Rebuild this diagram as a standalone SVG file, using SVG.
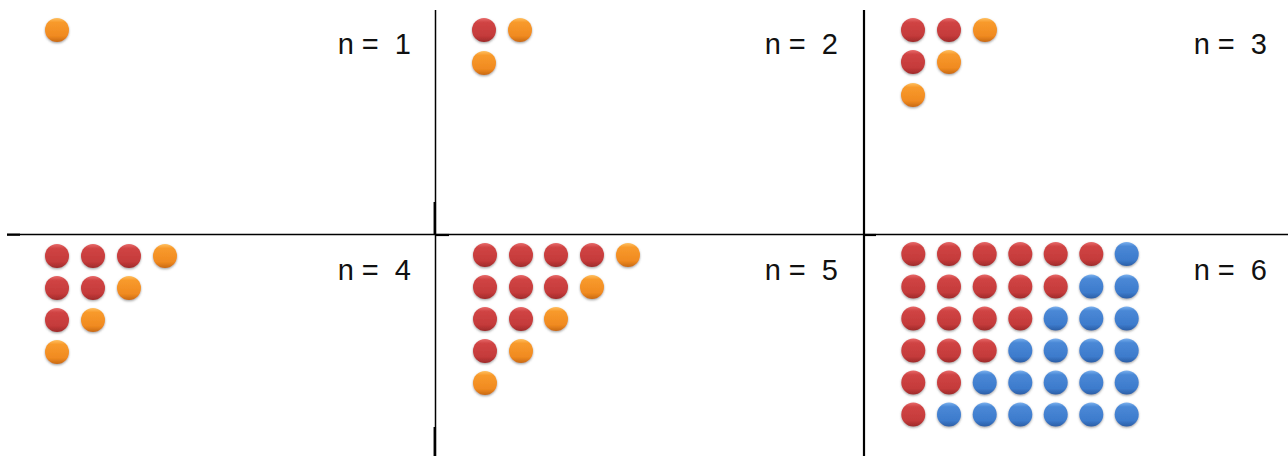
<svg xmlns="http://www.w3.org/2000/svg" xmlns:xlink="http://www.w3.org/1999/xlink" width="1288" height="456" viewBox="0 0 1288 456">
  <style>
    .lbl { font-family: "Liberation Sans", Arial, sans-serif; font-size: 29px; fill: #111; }
    .ln { stroke: #000; fill: none; }
  </style>
  <defs>
    <filter id="sh" x="-40%" y="-40%" width="180%" height="180%">
      <feDropShadow dx="0" dy="1.2" stdDeviation="1.1" flood-color="#555" flood-opacity="0.55"/>
    </filter>
    <linearGradient id="gR" x1="0" y1="0" x2="0" y2="1">
      <stop offset="0" stop-color="#e86a6a"/>
      <stop offset="0.18" stop-color="#d04444"/>
      <stop offset="0.75" stop-color="#c43a3a"/>
      <stop offset="1" stop-color="#9e2a2a"/>
    </linearGradient>
    <linearGradient id="gO" x1="0" y1="0" x2="0" y2="1">
      <stop offset="0" stop-color="#ffc060"/>
      <stop offset="0.18" stop-color="#f89a2c"/>
      <stop offset="0.75" stop-color="#f08a20"/>
      <stop offset="1" stop-color="#c86a12"/>
    </linearGradient>
    <linearGradient id="gB" x1="0" y1="0" x2="0" y2="1">
      <stop offset="0" stop-color="#7ab0ee"/>
      <stop offset="0.18" stop-color="#4a88d6"/>
      <stop offset="0.75" stop-color="#3d7bcc"/>
      <stop offset="1" stop-color="#2a5ea6"/>
    </linearGradient>
    <circle id="R" r="12" fill="url(#gR)" filter="url(#sh)"/>
    <circle id="O" r="12" fill="url(#gO)" filter="url(#sh)"/>
    <circle id="B" r="12" fill="url(#gB)" filter="url(#sh)"/>
  </defs>
  <rect width="1288" height="456" fill="#fff"/>

  <g id="grid">
    <line class="ln" x1="435.5" y1="10" x2="435.5" y2="456" stroke-width="1.5"/>
    <line class="ln" x1="434.8" y1="202" x2="434.8" y2="234" stroke-width="2.5"/>
    <line class="ln" x1="434.8" y1="427" x2="434.8" y2="456" stroke-width="2.5"/>
    <line class="ln" x1="864" y1="10" x2="864" y2="456" stroke-width="2.2"/>
    <line class="ln" x1="7" y1="234.5" x2="1288" y2="234.5" stroke-width="1.4"/>
    <line class="ln" x1="7" y1="234.7" x2="20" y2="234.7" stroke-width="2.2"/>
    <line class="ln" x1="435" y1="235" x2="449" y2="235" stroke-width="2.2"/>
    <line class="ln" x1="864" y1="235" x2="876" y2="235" stroke-width="2.2"/>
  </g>

  <g id="panel-n1">
    <use href="#O" x="57" y="30"/>
    <text class="lbl" x="411" y="54" text-anchor="end" xml:space="preserve">n =  1</text>
  </g>

  <g id="panel-n2">
    <use href="#R" x="484" y="30"/><use href="#O" x="520" y="30"/>
    <use href="#O" x="484" y="63"/>
    <text class="lbl" x="838" y="54" text-anchor="end" xml:space="preserve">n =  2</text>
  </g>

  <g id="panel-n3">
    <use href="#R" x="913" y="30"/><use href="#R" x="949" y="30"/><use href="#O" x="985" y="30"/>
    <use href="#R" x="913" y="62"/><use href="#O" x="949" y="62"/>
    <use href="#O" x="913" y="95"/>
    <text class="lbl" x="1267" y="54" text-anchor="end" xml:space="preserve">n =  3</text>
  </g>

  <g id="panel-n4">
    <use href="#R" x="57" y="256"/><use href="#R" x="93" y="256"/><use href="#R" x="129" y="256"/><use href="#O" x="165" y="256"/>
    <use href="#R" x="57" y="288"/><use href="#R" x="93" y="288"/><use href="#O" x="129" y="288"/>
    <use href="#R" x="57" y="320"/><use href="#O" x="93" y="320"/>
    <use href="#O" x="57" y="352"/>
    <text class="lbl" x="411" y="280" text-anchor="end" xml:space="preserve">n =  4</text>
  </g>

  <g id="panel-n5">
    <use href="#R" x="485" y="255"/><use href="#R" x="521" y="255"/><use href="#R" x="556" y="255"/><use href="#R" x="592" y="255"/><use href="#O" x="628" y="255"/>
    <use href="#R" x="485" y="287"/><use href="#R" x="521" y="287"/><use href="#R" x="556" y="287"/><use href="#O" x="592" y="287"/>
    <use href="#R" x="485" y="319"/><use href="#R" x="521" y="319"/><use href="#O" x="556" y="319"/>
    <use href="#R" x="485" y="351"/><use href="#O" x="521" y="351"/>
    <use href="#O" x="485" y="383"/>
    <text class="lbl" x="838" y="280" text-anchor="end" xml:space="preserve">n =  5</text>
  </g>

  <g id="panel-n6">
    <use href="#R" x="913.3" y="254"/><use href="#R" x="949" y="254"/><use href="#R" x="984.7" y="254"/><use href="#R" x="1020.3" y="254"/><use href="#R" x="1055.7" y="254"/><use href="#R" x="1091.3" y="254"/><use href="#B" x="1126.7" y="254"/>
    <use href="#R" x="913.3" y="286.5"/><use href="#R" x="949" y="286.5"/><use href="#R" x="984.7" y="286.5"/><use href="#R" x="1020.3" y="286.5"/><use href="#R" x="1055.7" y="286.5"/><use href="#B" x="1091.3" y="286.5"/><use href="#B" x="1126.7" y="286.5"/>
    <use href="#R" x="913.3" y="318.5"/><use href="#R" x="949" y="318.5"/><use href="#R" x="984.7" y="318.5"/><use href="#R" x="1020.3" y="318.5"/><use href="#B" x="1055.7" y="318.5"/><use href="#B" x="1091.3" y="318.5"/><use href="#B" x="1126.7" y="318.5"/>
    <use href="#R" x="913.3" y="350.5"/><use href="#R" x="949" y="350.5"/><use href="#R" x="984.7" y="350.5"/><use href="#B" x="1020.3" y="350.5"/><use href="#B" x="1055.7" y="350.5"/><use href="#B" x="1091.3" y="350.5"/><use href="#B" x="1126.7" y="350.5"/>
    <use href="#R" x="913.3" y="382.5"/><use href="#R" x="949" y="382.5"/><use href="#B" x="984.7" y="382.5"/><use href="#B" x="1020.3" y="382.5"/><use href="#B" x="1055.7" y="382.5"/><use href="#B" x="1091.3" y="382.5"/><use href="#B" x="1126.7" y="382.5"/>
    <use href="#R" x="913.3" y="414.5"/><use href="#B" x="949" y="414.5"/><use href="#B" x="984.7" y="414.5"/><use href="#B" x="1020.3" y="414.5"/><use href="#B" x="1055.7" y="414.5"/><use href="#B" x="1091.3" y="414.5"/><use href="#B" x="1126.7" y="414.5"/>
    <text class="lbl" x="1267" y="280" text-anchor="end" xml:space="preserve">n =  6</text>
  </g>
</svg>
